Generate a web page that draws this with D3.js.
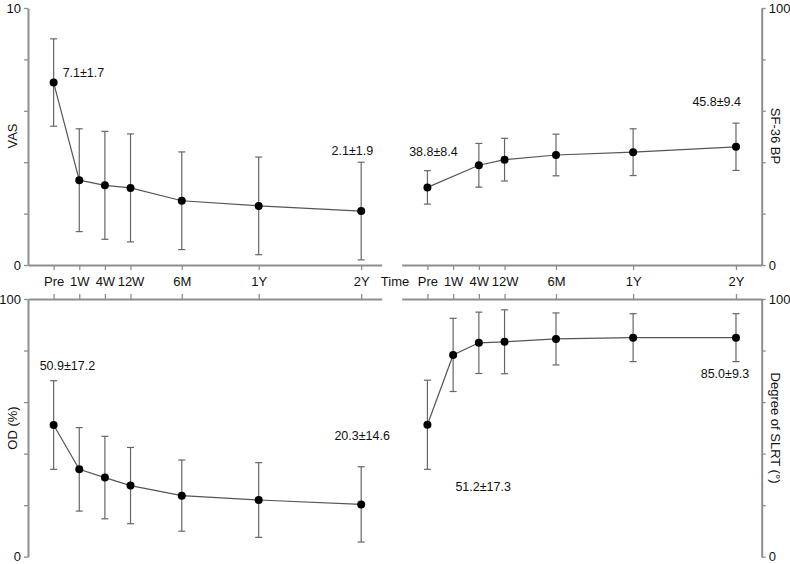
<!DOCTYPE html>
<html>
<head>
<script src="https://d3js.org/d3.v7.min.js"></script>
<style>
body { margin: 0; background: #fff; }
svg { font-family: "Liberation Sans", Arial, sans-serif; }
.axis path, .axis line { stroke: #8e8e8e; }
.axis path { stroke-width: 2; }
.axis line { stroke-width: 1.3; }
.axis text { fill: #111; font-size: 13px; }
</style>
</head>
<body>
<svg width="790" height="564"></svg>
<script>

const times = ["Pre", "1W", "4W", "12W", "6M", "1Y", "2Y"];
const timePos = [0, 1, 2, 3, 5, 8, 12];

const vasMean = [7.1, 3.3, 3.1, 3.0, 2.5, 2.3, 2.1];
const vasSD = [1.7, 2.0, 2.1, 2.1, 1.9, 1.9, 1.9];

// no 1W value on the SF-36 panel
const sfMean = [30.2, null, 38.8, 41.0, 42.8, 43.9, 46.0];
const sfSD = [6.5, null, 8.5, 8.3, 8.1, 9.1, 9.2];

const odMean = [51.1, 33.9, 30.7, 27.6, 23.7, 22.0, 20.3];
const odSD = [17.2, 16.2, 16.0, 14.8, 13.8, 14.5, 14.6];

const slrtMean = [51.2, 78.3, 83.0, 83.4, 84.5, 85.0, 85.0];
const slrtSD = [17.3, 14.2, 11.9, 12.4, 10.1, 9.3, 9.3];

const svg = d3.select("svg");

const xLeft = d3.scaleLinear().domain([-1, 12.8]).range([28, 381.7]);
const xRight = d3.scaleLinear().domain([-1, 13]).range([401.7, 761.7]);
const yVas = d3.scaleLinear().domain([0, 10]).range([265, 8]);
const ySf = d3.scaleLinear().domain([0, 100]).range([265, 8]);
const yOd = d3.scaleLinear().domain([0, 100]).range([556.7, 299]);
const ySlrt = d3.scaleLinear().domain([0, 100]).range([556.7, 299]);

function rows(mean, sd) {
  return times.map(function(t, i) {
    return {t: t, pos: timePos[i], m: mean[i], sd: sd[i]};
  }).filter(function(d) { return d.m != null; });
}

function yAxis(gen, y, tickVals, xPos) {
  const ends = [tickVals[0], tickVals[tickVals.length - 1]];
  svg.append("g")
      .attr("class", "axis")
      .attr("transform", "translate(" + xPos + ",0)")
      .call(gen(y).tickValues(tickVals).tickSize(4).tickSizeOuter(0).tickPadding(3)
        .tickFormat(function(d) { return ends.indexOf(d) >= 0 ? d : ""; }));
}

function xAxis(gen, x, yPos, labels) {
  const a = gen(x).tickValues(timePos).tickSize(5).tickSizeOuter(0).tickPadding(7)
    .tickFormat(function(d, i) { return labels ? times[i] : ""; });
  svg.append("g")
      .attr("class", "axis")
      .attr("transform", "translate(0," + yPos + ")")
      .call(a);
}

function series(data, x, y) {
  const g = svg.append("g");
  g.append("path")
      .datum(data)
      .attr("fill", "none")
      .attr("stroke", "#555")
      .attr("stroke-width", 1.2)
      .attr("d", d3.line().x(function(d) { return x(d.pos); }).y(function(d) { return y(d.m); }));

  const e = g.selectAll(".err")
    .data(data)
    .enter().append("g")
      .attr("class", "err")
      .attr("stroke", "#666")
      .attr("stroke-width", 1.2);
  e.append("line")
      .attr("x1", function(d) { return x(d.pos); })
      .attr("x2", function(d) { return x(d.pos); })
      .attr("y1", function(d) { return y(d.m - d.sd); })
      .attr("y2", function(d) { return y(d.m + d.sd); });
  [-1, 1].forEach(function(s) {
    e.append("line")
        .attr("x1", function(d) { return x(d.pos) - 3.5; })
        .attr("x2", function(d) { return x(d.pos) + 3.5; })
        .attr("y1", function(d) { return y(d.m + s * d.sd); })
        .attr("y2", function(d) { return y(d.m + s * d.sd); });
  });

  g.selectAll("circle")
    .data(data)
    .enter().append("circle")
      .attr("cx", function(d) { return x(d.pos); })
      .attr("cy", function(d) { return y(d.m); })
      .attr("r", 4)
      .attr("fill", "#000");
}

function note(text, x, y, anchor) {
  svg.append("text")
      .attr("x", x)
      .attr("y", y)
      .attr("dy", "0.35em")
      .attr("text-anchor", anchor)
      .attr("font-size", 12.5)
      .attr("fill", "#111")
      .text(text);
}

function title(text, x, y, rot) {
  svg.append("text")
      .attr("transform", "translate(" + x + "," + y + ") rotate(" + rot + ")")
      .attr("text-anchor", "middle")
      .attr("font-size", 13)
      .attr("fill", "#111")
      .text(text);
}

// axes
yAxis(d3.axisLeft, yVas, [0, 2, 4, 6, 8, 10], 28);
yAxis(d3.axisRight, ySf, [0, 20, 40, 60, 80, 100], 761.7);
yAxis(d3.axisLeft, yOd, [0, 20, 40, 60, 80, 100], 28);
yAxis(d3.axisRight, ySlrt, [0, 20, 40, 60, 80, 100], 761.7);

xAxis(d3.axisBottom, xLeft, 265, true);
xAxis(d3.axisBottom, xRight, 265, true);
xAxis(d3.axisTop, xLeft, 299, false);
xAxis(d3.axisTop, xRight, 299, false);

svg.append("text")
    .attr("x", 395)
    .attr("y", 286)
    .attr("text-anchor", "middle")
    .attr("font-size", 13)
    .attr("fill", "#111")
    .text("Time");

title("VAS", 17, 136, -90);
title("OD (%)", 17, 428, -90);
title("SF-36 BP", 771, 136, 90);
title("Degree of SLRT (°)", 771, 428, 90);

// series
const vas = rows(vasMean, vasSD);
const sf = rows(sfMean, sfSD);
const od = rows(odMean, odSD);
const slrt = rows(slrtMean, slrtSD);

series(vas, xLeft, yVas);
series(sf, xRight, ySf);
series(od, xLeft, yOd);
series(slrt, xRight, ySlrt);

// value labels
note("7.1±1.7", xLeft(0) + 9, yVas(7.1) - 10, "start");
note("2.1±1.9", xLeft(12) + 12, yVas(2.1 + 1.9) - 12, "end");
note("38.8±8.4", xRight(0) + 6, ySf(30.2 + 6.5) - 19, "middle");
note("45.8±9.4", xRight(12) + 5, ySf(46.0 + 9.2) - 22, "end");
note("50.9±17.2", xLeft(0) - 14, yOd(51.1 + 17.2) - 15, "start");
note("20.3±14.6", xLeft(12) + 1, yOd(20.3 + 14.6) - 31, "middle");
note("51.2±17.3", xRight(0) + 28, ySlrt(51.2 - 17.3) + 17, "start");
note("85.0±9.3", xRight(12) - 11, ySlrt(85.0 - 9.3) + 12, "middle");

</script>
</body>
</html>
